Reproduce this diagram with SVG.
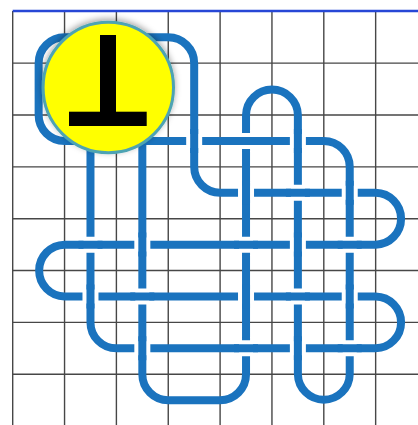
<svg xmlns="http://www.w3.org/2000/svg" width="418" height="425" viewBox="0 0 418 425">
  <defs>
    <style>
      .grid { stroke: #474747; stroke-width: 1.4; fill: none; }
      .rim { stroke: #2747d6; stroke-width: 2.4; }
      .band { fill: none; stroke: #1a73be; stroke-width: 8; }
      .halo { fill: none; stroke: #ffffff; stroke-width: 16; }
    </style>
    <filter id="badgeShadow" x="-25%" y="-25%" width="150%" height="150%">
      <feDropShadow dx="0" dy="-2" stdDeviation="3" flood-color="#000000" flood-opacity="0.35"/>
    </filter>
  </defs>

  <rect width="418" height="425" fill="#ffffff"/>

  <!-- square grid, 51.85 px pitch -->
  <g id="grid" class="grid">
    <path d="M12.7 11V425M64.55 11V425M116.4 11V425M168.25 11V425M220.1 11V425M271.95 11V425M323.8 11V425M375.65 11V425"/>
    <path d="M12.7 63.15H418M12.7 115H418M12.7 166.85H418M12.7 218.7H418M12.7 270.55H418M12.7 322.4H418M12.7 374.25H418"/>
    <line class="rim" x1="12.7" y1="11" x2="418" y2="11"/>
  </g>

  <!-- single closed interlaced band -->
  <g id="knot">
    <path class="band" d="M194.18 63.15V166.85A25.93 25.93 0 0 0 220.1 192.78H375.65A25.93 25.93 0 0 1 375.65 244.63H64.55A25.93 25.93 0 0 0 64.55 296.48H375.65A25.93 25.93 0 0 1 375.65 348.33H116.4A25.93 25.93 0 0 1 90.48 322.4V115A25.93 25.93 0 0 1 142.33 115V374.25A25.93 25.93 0 0 0 168.25 400.18H220.1A25.93 25.93 0 0 0 246.03 374.25V115A25.93 25.93 0 0 1 297.88 115V374.25A25.93 25.93 0 0 0 349.73 374.25V166.85A25.93 25.93 0 0 0 323.8 140.93H64.55A25.93 25.93 0 0 1 38.63 115V63.15A25.93 25.93 0 0 1 64.55 37.23H168.25A25.93 25.93 0 0 1 194.18 63.15Z"/>
    <!-- over-crossings: vertical strand on top (short white gap, longer blue bridge) -->
    <g id="over-vertical">
      <path class="halo" d="M194.18 133.9V147.9M297.88 133.9V147.9M246.03 185.8V199.8M349.73 185.8V199.8M142.33 237.6V251.6M297.88 237.6V251.6M90.48 289.5V303.5M246.03 289.5V303.5M349.73 289.5V303.5M142.33 341.3V355.3M297.88 341.3V355.3"/>
      <path class="band" d="M194.18 128.9V152.9M297.88 128.9V152.9M246.03 180.8V204.8M349.73 180.8V204.8M142.33 232.6V256.6M297.88 232.6V256.6M90.48 284.5V308.5M246.03 284.5V308.5M349.73 284.5V308.5M142.33 336.3V360.3M297.88 336.3V360.3"/>
    </g>
    <!-- over-crossings: horizontal strand on top -->
    <g id="over-horizontal">
      <path class="halo" d="M239 140.93H253M290.9 192.78H304.9M83.5 244.63H97.5M239 244.63H253M342.7 244.63H356.7M135.3 296.48H149.3M290.9 296.48H304.9M239 348.33H253M342.7 348.33H356.7"/>
      <path class="band" d="M234 140.93H258M285.9 192.78H309.9M78.5 244.63H102.5M234 244.63H258M337.7 244.63H361.7M130.3 296.48H154.3M285.9 296.48H309.9M234 348.33H258M337.7 348.33H361.7"/>
    </g>
  </g>

  <!-- perpendicular badge -->
  <g id="badge">
    <circle cx="108.3" cy="87.5" r="65.2" fill="#ffff00" stroke="#4ea3b3" stroke-width="3" filter="url(#badgeShadow)"/>
    <rect x="100" y="35" width="16" height="82" fill="#000000"/>
    <rect x="69" y="111.7" width="77.7" height="14.3" fill="#000000"/>
  </g>
</svg>
